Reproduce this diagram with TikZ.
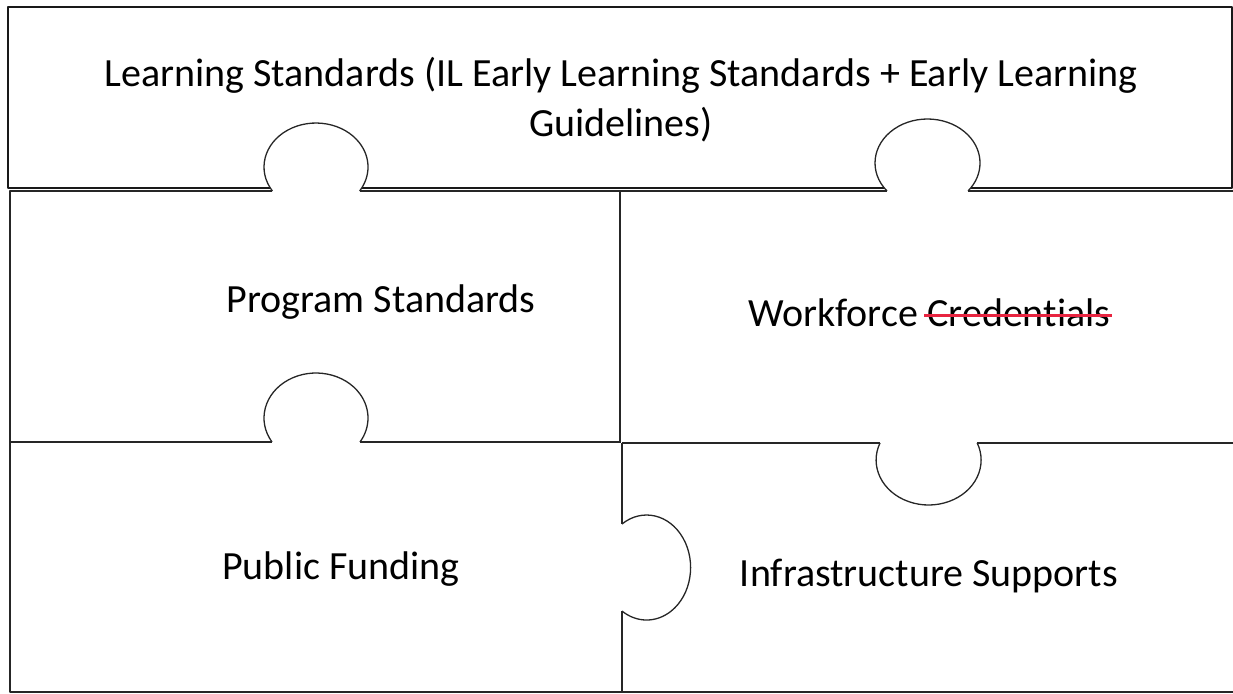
\documentclass[tikz,border=0pt]{standalone}
\usepackage{fontspec}
\setmainfont{Carlito}[Ligatures=NoCommon]
\usetikzlibrary{positioning}
\definecolor{tachado}{RGB}{232,36,64}

\begin{document}
\begin{tikzpicture}[x=1pt, y=1pt, line join=round,
  pieza/.style={line width=1.3pt, black!85},
  borde/.style={line width=1.7pt, black!90},
  etiqueta/.style={font=\fontsize{40}{50}\selectfont, inner sep=0pt}]
  \useasboundingbox (0,0) rectangle (1233,693);
  % Pieza superior
  \draw[borde] (270.3,505) -- (8,505) -- (8,686) -- (1232,686) -- (1232,505) -- (970.7,505);
  \draw[borde] (361.7,505) -- (884.3,505);
  % Lengüetas hacia arriba
  \draw[pieza] (272.4,502) arc[start angle=213, end angle=-33, x radius=52, y radius=44];
  \draw[pieza] (887,502) arc[start angle=219.5, end angle=-39.5, x radius=52.5, y radius=44];
  % Borde de las piezas inferiores
  \draw[pieza] (272.4,502) -- (10,502) -- (10,1) -- (1233,1);
  \draw[pieza] (359.6,502) -- (887,502);
  \draw[pieza] (968,502) -- (1233,502);
  % Corte horizontal izquierdo
  \draw[pieza] (10,251) -- (272,251);
  \draw[pieza] (360,251) -- (620,251);
  \draw[pieza] (272,251) arc[start angle=212.2, end angle=-32.2, x radius=52, y radius=45];
  % Corte horizontal derecho
  \draw[pieza] (622,250) -- (880,250);
  \draw[pieza] (977,250) -- (1233,250);
  \draw[pieza] (880,250) arc[start angle=157.8, end angle=382.2, x radius=52.5, y radius=45];
  % Cortes verticales
  \draw[pieza] (620,502) -- (620,250);
  \draw[pieza] (622,250) -- (622,169);
  \draw[pieza] (622,82) -- (622,1);
  \draw[pieza] (622,169) arc[start angle=124, end angle=-124, x radius=44, y radius=52.5];
  % Textos
  \node[etiqueta, align=center] (learning) at (621,593)
    {Learning Standards (IL Early Learning Standards + Early Learning\\Guidelines)};
  \node[etiqueta] (program) at (381,391) {Program Standards};
  \node[etiqueta, anchor=base west] (workforce) at (748,366) {Workforce};
  \node[etiqueta, anchor=base west] (cred) at ([xshift=9pt]workforce.base east) {Credentials};
  \draw[tachado, line width=3pt] ([xshift=-3pt, yshift=11pt]cred.base west)
    -- ([xshift=2pt, yshift=11pt]cred.base east);
  \node[etiqueta] (funding) at (341,124) {Public Funding};
  \node[etiqueta] (infra) at (929,117) {Infrastructure Supports};
\end{tikzpicture}
\end{document}
